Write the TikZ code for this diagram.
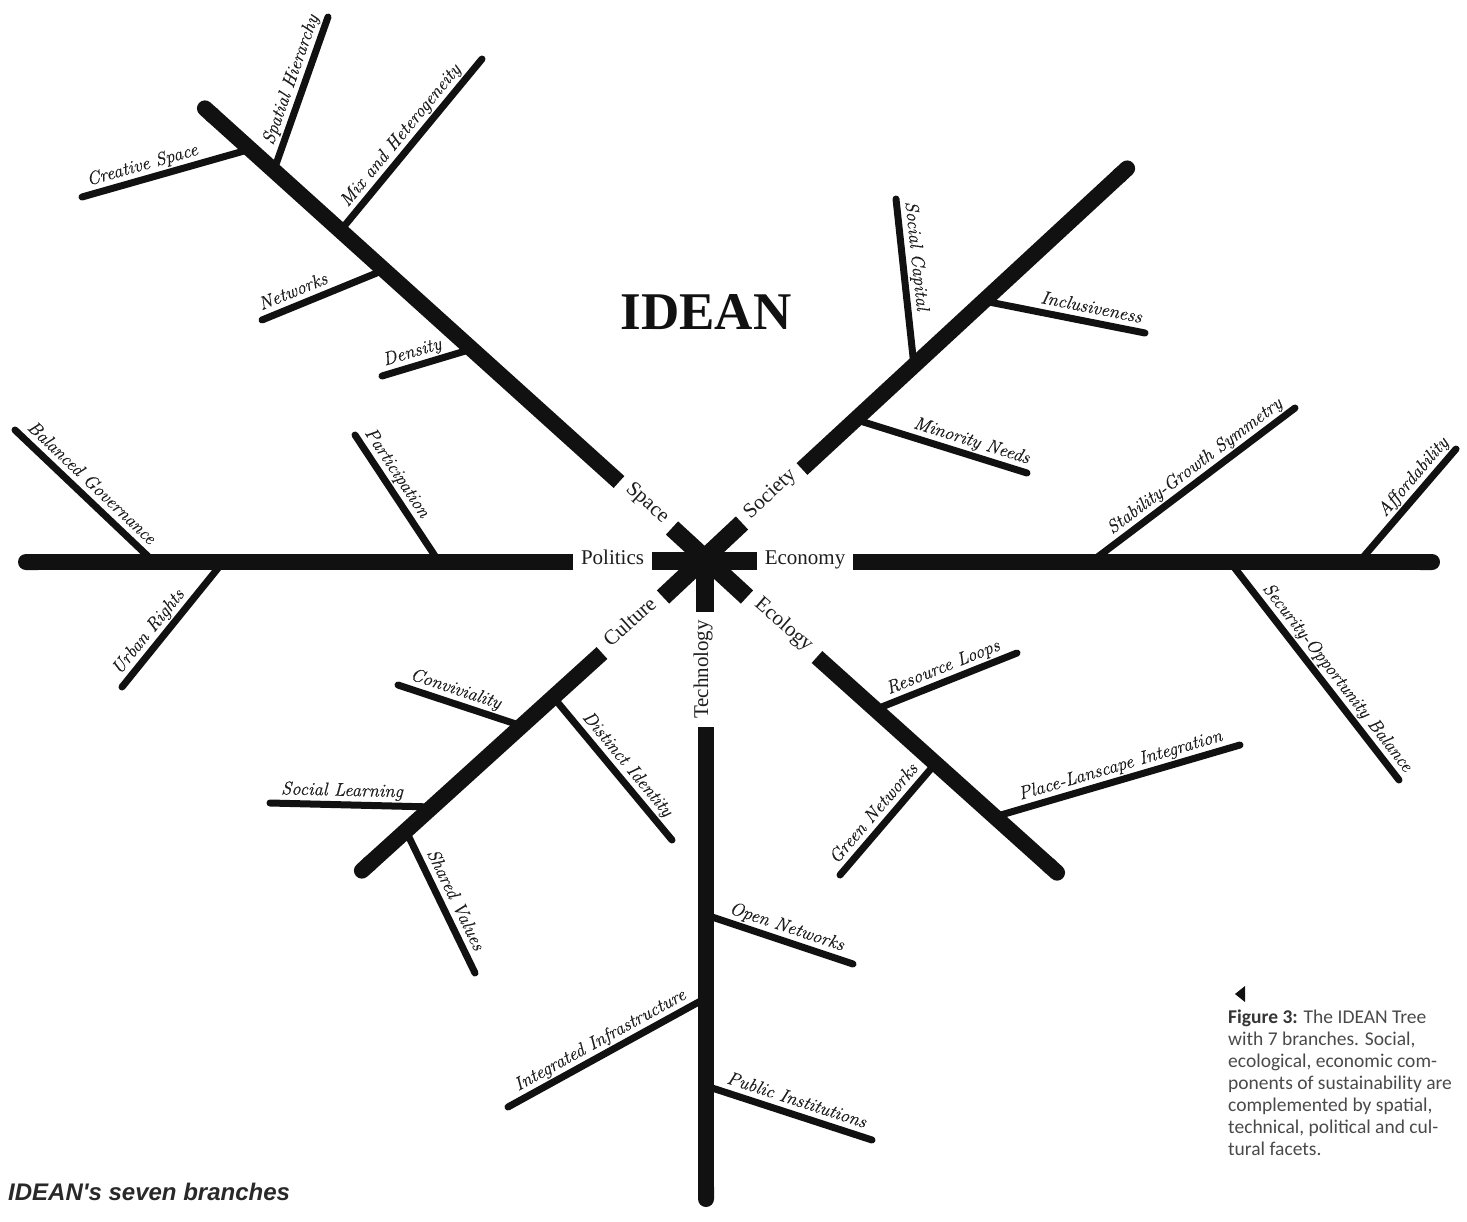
\documentclass[tikz,border=0pt]{standalone}
\usepackage{fontspec}
\setmainfont{Liberation Serif}
\newfontfamily\twigfont{lmroman12}[Extension=.otf, UprightFont=*-regular, ItalicFont=*-italic, ItalicFeatures={FakeBold=0.4}]
\newfontfamily\capfont{Carlito}
\newfontfamily\notefont{Liberation Sans}
\usepackage{tikz}
\usetikzlibrary{arrows.meta,calc}
\definecolor{ink}{HTML}{111111}
\definecolor{labelgrey}{HTML}{1E1E1E}
\definecolor{capgrey}{HTML}{4A4A4A}
\tikzset{
  trunk/.style={draw=ink, line width=16pt, -{Round Cap[]}},
  spoke/.style={draw=ink, line width=18pt},
  twig/.style={draw=ink, line width=7pt, line cap=round},
  trunklabel/.style={
    font=\fontsize{21}{21}\selectfont, text=labelgrey,
    inner sep=0pt, text height=0.7em, text depth=0.2em
  },
  twiglabel/.style={
    sloped, above, font=\twigfont\itshape\fontsize{18.5}{18.5}\selectfont,
    text=labelgrey, inner sep=3pt, text height=0.7em, text depth=0.25em
  },
  titlelabel/.style={font=\bfseries\fontsize{53}{53}\selectfont, text=ink},
  capnote/.style={
    font=\capfont\fontsize{19.5}{22}\selectfont, text=capgrey,
    align=left, inner sep=0pt
  },
  bottomnote/.style={
    font=\notefont\bfseries\itshape\fontsize{24}{24}\selectfont,
    text=ink!90, inner sep=0pt
  },
}

\begin{document}
\begin{tikzpicture}[x=1pt, y=-1pt]
\fill[white] (0,0) rectangle (1467,1221);
\useasboundingbox (0,0) rectangle (1467,1221);

% Hub and the ends of the star
\coordinate (hub) at (705,561);
\coordinate (hub-w) at (652,561);
\coordinate (hub-e) at (757,561);
\coordinate (hub-nw) at (672,528);
\coordinate (hub-ne) at (742,523);
\coordinate (hub-sw) at (663,597);
\coordinate (hub-se) at (747,597);
\coordinate (hub-s) at (705,612);

% Trunks
\coordinate (space-in) at (619,482);   \coordinate (space-out) at (199,103);
\coordinate (society-in) at (802,469); \coordinate (society-out) at (1133,163);
\coordinate (politics-in) at (573,562); \coordinate (politics-out) at (18,562);
\coordinate (economy-in) at (853,562); \coordinate (economy-out) at (1440,562);
\coordinate (culture-in) at (602,653); \coordinate (culture-out) at (356,876);
\coordinate (ecology-in) at (817,657); \coordinate (ecology-out) at (1063,878);
\coordinate (tech-in) at (706,727);    \coordinate (tech-out) at (706,1207);

% Twig ends: base on the trunk, free end
\coordinate (creative-b) at (251,149);  \coordinate (creative-f) at (82,197);
\coordinate (hierarchy-b) at (274,170); \coordinate (hierarchy-f) at (328,17);
\coordinate (mix-b) at (341,230);       \coordinate (mix-f) at (482,59);
\coordinate (networks-b) at (384,270);  \coordinate (networks-f) at (262,320);
\coordinate (density-b) at (472,349);   \coordinate (density-f) at (382,376);
\coordinate (capital-b) at (914,366);   \coordinate (capital-f) at (896,199);
\coordinate (inclusive-b) at (984,301); \coordinate (inclusive-f) at (1145,333);
\coordinate (minority-b) at (857,420);  \coordinate (minority-f) at (1027,473);
\coordinate (governance-b) at (154,562); \coordinate (governance-f) at (15,430);
\coordinate (particip-b) at (439,562);  \coordinate (particip-f) at (355,435);
\coordinate (rights-b) at (223,562);    \coordinate (rights-f) at (122,687);
\coordinate (stability-b) at (1091,562); \coordinate (stability-f) at (1295,408);
\coordinate (afford-b) at (1359,562);   \coordinate (afford-f) at (1456,449);
\coordinate (security-b) at (1230,562); \coordinate (security-f) at (1399,780);
\coordinate (convivial-b) at (522,726); \coordinate (convivial-f) at (398,685);
\coordinate (identity-b) at (554,698);  \coordinate (identity-f) at (672,840);
\coordinate (learning-b) at (433,807);  \coordinate (learning-f) at (270,803);
\coordinate (values-b) at (406,831);    \coordinate (values-f) at (475,973);
\coordinate (loops-b) at (874,710);     \coordinate (loops-f) at (1017,653);
\coordinate (green-b) at (935,764);     \coordinate (green-f) at (840,875);
\coordinate (place-b) at (994,817);     \coordinate (place-f) at (1240,745);
\coordinate (open-b) at (706,915);      \coordinate (open-f) at (853,964);
\coordinate (infra-b) at (706,998);     \coordinate (infra-f) at (508,1107);
\coordinate (public-b) at (706,1086);   \coordinate (public-f) at (872,1140);

% Twigs with their labels
\draw[twig] (creative-b) -- (creative-f) node[twiglabel, pos=.62] (creative) {Creative Space};
\draw[twig] (hierarchy-b) -- (hierarchy-f) node[twiglabel, pos=.56] (hierarchy) {Spatial Hierarchy};
\draw[twig] (mix-b) -- (mix-f) node[twiglabel, pos=.50] (mix) {Mix and Heterogeneity};
\draw[twig] (networks-b) -- (networks-f) node[twiglabel, pos=.70] (networks) {Networks};
\draw[twig] (density-b) -- (density-f) node[twiglabel, pos=.62] (density) {Density};
\draw[twig] (capital-b) -- (capital-f) node[twiglabel, pos=.65] (capital) {Social Capital};
\draw[twig] (inclusive-b) -- (inclusive-f) node[twiglabel, pos=.65] (inclusive) {Inclusiveness};
\draw[twig] (minority-b) -- (minority-f) node[twiglabel, pos=.65] (minority) {Minority Needs};
\draw[twig] (governance-b) -- (governance-f) node[twiglabel, pos=.52] (governance) {Balanced Governance};
\draw[twig] (particip-b) -- (particip-f) node[twiglabel, pos=.64] (particip) {Participation};
\draw[twig] (rights-b) -- (rights-f) node[twiglabel, pos=.63] (rights) {Urban Rights};
\draw[twig] (stability-b) -- (stability-f) node[twiglabel, pos=.55] (stability) {Stability-Growth Symmetry};
\draw[twig] (afford-b) -- (afford-f) node[twiglabel, pos=.67] (afford) {Affordability};
\draw[twig] (security-b) -- (security-f) node[twiglabel, pos=.57] (security) {Security-Opportunity Balance};
\draw[twig] (convivial-b) -- (convivial-f) node[twiglabel, pos=.57] (convivial) {Conviviality};
\draw[twig] (identity-b) -- (identity-f) node[twiglabel, pos=.53] (identity) {Distinct Identity};
\draw[twig] (learning-b) -- (learning-f) node[twiglabel, pos=.56] (learning) {Social Learning};
\draw[twig] (values-b) -- (values-f) node[twiglabel, pos=.53] (values) {Shared Values};
\draw[twig] (loops-b) -- (loops-f) node[twiglabel, pos=.52] (loops) {Resource Loops};
\draw[twig] (green-b) -- (green-f) node[twiglabel, pos=.53] (green) {Green Networks};
\draw[twig] (place-b) -- (place-f) node[twiglabel, pos=.53] (place) {Place-Lanscape Integration};
\draw[twig] (open-b) -- (open-f) node[twiglabel, pos=.52] (open) {Open Networks};
\draw[twig] (infra-b) -- (infra-f) node[twiglabel, pos=.50] (infra) {Integrated Infrastructure};
\draw[twig] (public-b) -- (public-f) node[twiglabel, pos=.52] (public) {Public Institutions};

% Trunks, square at the hub side and round outside
\draw[trunk] (space-in) -- (space-out);
\draw[trunk] (society-in) -- (society-out);
\draw[trunk] (politics-in) -- (politics-out);
\draw[trunk] (economy-in) -- (economy-out);
\draw[trunk] (culture-in) -- (culture-out);
\draw[trunk] (ecology-in) -- (ecology-out);
\draw[trunk] (tech-in) -- (tech-out);

% The star in the middle
\draw[spoke] (hub-w) -- (hub-e);
\draw[spoke] (hub-nw) -- (hub-se);
\draw[spoke] (hub-ne) -- (hub-sw);
\draw[spoke] (hub) -- (hub-s);

% Branch names in the gaps
\node[trunklabel] (lbl-politics) at ($(hub-w)!.5!(politics-in)$) {Politics};
\node[trunklabel] (lbl-economy) at ($(hub-e)!.5!(economy-in)$) {Economy};
\node[trunklabel, rotate=-42] (lbl-space) at ($(hub-nw)!.5!(space-in)$) {Space};
\node[trunklabel, rotate=43] (lbl-society) at ($(hub-ne)!.5!(society-in)$) {Society};
\node[trunklabel, rotate=42] (lbl-culture) at ($(hub-sw)!.5!(culture-in)$) {Culture};
\node[trunklabel, rotate=-41] (lbl-ecology) at ($(hub-se)!.5!(ecology-in)$) {Ecology};
\node[trunklabel, rotate=90] (lbl-tech) at ($(hub-s)!.5!(tech-in)$) {Technology};

% Title
\node[titlelabel] (title) at (706,312) {IDEAN};

% Caption
\fill[ink] (1235,994) -- (1245,986) -- (1245,1002) -- cycle;
\node[capnote, anchor=north west] (caption) at (1228,1010)
  {{\bfseries\color{ink!85}Figure 3:} The IDEAN Tree\\
   with 7 branches. Social,\\
   ecological, economic com-\\
   ponents of sustainability are\\
   complemented by spatial,\\
   technical, political and cul-\\
   tural facets.};
\node[bottomnote, anchor=base west] (note) at (8,1200) {IDEAN's seven branches};

\end{tikzpicture}
\end{document}
